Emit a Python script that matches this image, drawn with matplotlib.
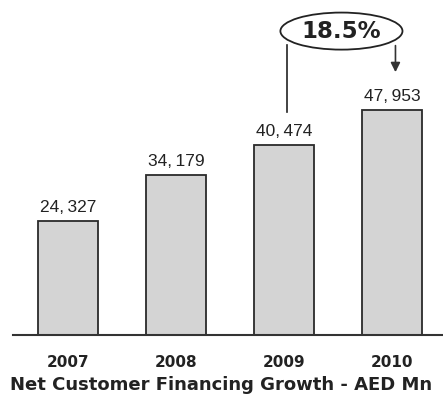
import matplotlib.pyplot as plt
from matplotlib.patches import Ellipse

years = ['2007', '2008', '2009', '2010']
financing = [24327, 34179, 40474, 47953]

growth = (financing[-1] / financing[-2] - 1) * 100

fig = plt.figure(figsize=(4.43, 4.05), dpi=100)
ax = fig.add_axes([13 / 443, 70 / 405, 430 / 443, 335 / 405])

x = range(len(years))
ax.bar(x, financing, width=0.56, color='#d4d4d4', edgecolor='#2a2a2a', linewidth=1.3)

for i, v in enumerate(financing):
    ax.text(i, v + 1300, f'{v:,}'.replace(',', ',\u2009'), ha='center', va='bottom',
            fontsize=12.5, family='Liberation Sans', color='#222222')

ax.set_xlim(-0.51, 3.47)
ax.set_ylim(0, 71430)
ax.set_xticks([])
ax.set_yticks([])
for s in ['top', 'right', 'left']:
    ax.spines[s].set_visible(False)
ax.spines['bottom'].set_linewidth(1.5)
ax.spines['bottom'].set_color('#333333')

for i, y in enumerate(years):
    ax.text(i, -5800, y, ha='center', va='center', fontsize=11,
            fontweight='bold', color='#222222', clip_on=False)

# growth callout: bracket from 2009 up to the oval, arrow down to 2010
ex, ey = 2.53, 64800
ax.add_patch(Ellipse((ex, ey), 1.13, 7900, facecolor='white',
                     edgecolor='#222222', linewidth=1.3, zorder=3))
ax.text(ex, ey, f'{growth:.1f}%', ha='center', va='center', fontsize=16.5,
        fontweight='bold', family='DejaVu Sans', color='#222222', zorder=4)
ax.plot([2.03, 2.03], [financing[2] + 7000, 61830], color='#222222', lw=1.2)
ax.annotate('', xy=(3.03, financing[3] + 7500), xytext=(3.03, 62300),
            arrowprops=dict(arrowstyle='-|>', color='#333333', lw=1.2,
                            mutation_scale=14))

fig.text(0.5, 20 / 405, 'Net Customer Financing Growth - AED Mn', ha='center',
         va='center', fontsize=13, fontweight='bold', color='#222222')

fig.savefig('out.png', dpi=100)
